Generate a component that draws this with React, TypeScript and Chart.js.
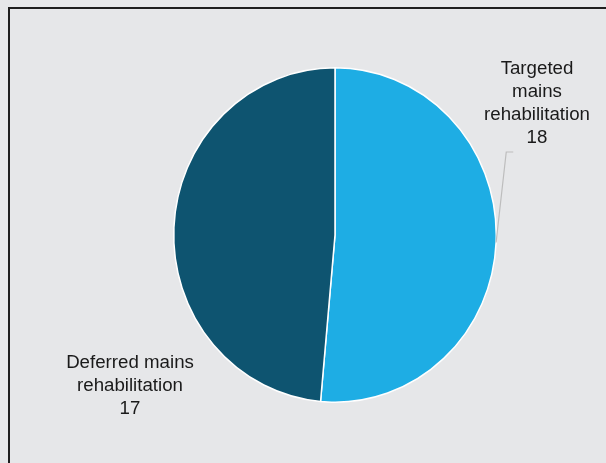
import React, { useEffect, useRef } from "react";
import { Chart, registerables } from "chart.js";

Chart.register(...registerables);

const categories = ["Targeted mains rehabilitation", "Deferred mains rehabilitation"];
const values = [18, 17];
const colors = ["#1EADE4", "#0E5470"];
const labelLines = [
  ["Targeted", "mains", "rehabilitation", "18"],
  ["Deferred mains", "rehabilitation", "17"],
];

const SY = 1.037; // the reference pie is slightly taller than wide

const labelPlugin = {
  id: "pieLabels",
  beforeDatasetsDraw(chart: any) {
    const arc0 = chart.getDatasetMeta(0).data[0] as any;
    const ctx = chart.ctx;
    ctx.save();
    ctx.translate(arc0.x, arc0.y);
    ctx.scale(1, SY);
    ctx.translate(-arc0.x, -arc0.y);
  },
  afterDatasetsDraw(chart: any) {
    const ctx = chart.ctx;
    ctx.restore();
    const meta = chart.getDatasetMeta(0);
    const arc0 = meta.data[0] as any;
    const cx = arc0.x;
    const cy = arc0.y;
    const r = arc0.outerRadius;
    ctx.save();
    const mid = (arc0.startAngle + arc0.endAngle) / 2;
    const sx = cx + Math.cos(mid) * r;
    const sy = cy + Math.sin(mid) * r * SY;
    ctx.strokeStyle = "#BDBDBD";
    ctx.lineWidth = 1.2;
    ctx.beginPath();
    ctx.moveTo(sx, sy);
    ctx.lineTo(cx + r + 10, cy - 83);
    ctx.lineTo(cx + r + 17, cy - 83);
    ctx.stroke();

    ctx.fillStyle = "#1a1a1a";
    ctx.font = "18.7px 'Liberation Sans', Arial, sans-serif";
    ctx.textAlign = "center";
    ctx.textBaseline = "middle";
    const lh = 22.8;
    const pos = [
      { x: cx + 202, y: cy - 166 },
      { x: cx - 205, y: cy + 128 },
    ];
    labelLines.forEach((lines, i) => {
      lines.forEach((t, j) => {
        ctx.fillText(t, pos[i].x, pos[i].y + j * lh);
      });
    });
    ctx.restore();
  },
};

export default function App() {
  const ref = useRef<HTMLCanvasElement>(null);
  useEffect(() => {
    document.body.style.margin = "0";
    document.body.style.background = "#E6E7E9";
    const chart = new Chart(ref.current as HTMLCanvasElement, {
      type: "pie",
      data: {
        labels: categories,
        datasets: [
          {
            data: values,
            backgroundColor: colors,
            borderColor: "#FFFFFF",
            borderWidth: 1.5,
            clip: false,
          } as any,
        ],
      },
      options: {
        responsive: false,
        animation: false,
        layout: { padding: { top: 73, bottom: 66, left: 173, right: 109 } },
        plugins: {
          legend: { display: false },
          tooltip: { enabled: false },
        },
      },
      plugins: [labelPlugin],
    });
    return () => chart.destroy();
  }, []);
  return (
    <div style={{ position: "relative", width: 606, height: 463, background: "#E6E7E9", overflow: "hidden" }}>
      <div
        style={{
          position: "absolute",
          left: 8,
          top: 7,
          width: 700,
          height: 600,
          borderLeft: "2px solid #1E1E1E",
          borderTop: "2px solid #1E1E1E",
        }}
      />
      <canvas ref={ref} width={606} height={463} style={{ position: "absolute", left: 0, top: 0 }} />
    </div>
  );
}
